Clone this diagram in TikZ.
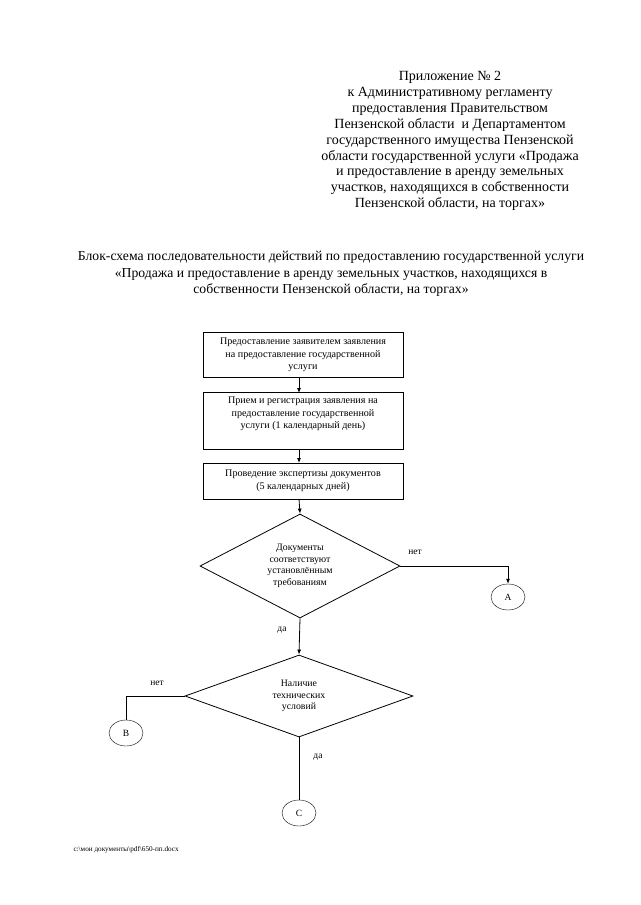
\documentclass[tikz,border=0pt]{standalone}
\usepackage{fontspec}
\setmainfont{Liberation Serif}
\usetikzlibrary{shapes.geometric,arrows.meta}

\begin{document}
\begin{tikzpicture}[x=1pt, y=-1pt,
	shag/.style = {draw, thick, minimum width=200pt, inner sep=1pt, align=center, font=\fontsize{10.1}{12.5}\selectfont},
	vopros/.style = {draw, thick, diamond, aspect=2, inner sep=0pt, align=center, font=\fontsize{9.8}{11.5}\selectfont},
	perehod/.style = {draw, ellipse, minimum width=34pt, minimum height=26pt, inner sep=0pt, font=\fontsize{9.5}{11}\selectfont},
	metka/.style = {font=\fontsize{9.5}{11}\selectfont},
	strelka/.style = {-{Latex[length=5pt,width=4pt]}, thick},
	liniya/.style = {thick},]

		\useasboundingbox[fill=white] (0,0) rectangle (640,905);

		% shapka
		\node[align=center, font=\fontsize{14}{15.9}\selectfont] (prilozh) at (450,141) {Приложение № 2\\к Административному регламенту\\предоставления Правительством\\Пензенской области\ \ и Департаментом\\государственного имущества Пензенской\\области государственной услуги «Продажа\\и предоставление в аренду земельных\\участков, находящихся в собственности\\Пензенской области, на торгах»};
		\node[align=center, font=\fontsize{13.7}{16.5}\selectfont] (zagolovok) at (331,274) {Блок-схема последовательности действий по предоставлению государственной услуги\\«Продажа и предоставление в аренду земельных участков, находящихся в\\собственности Пензенской области, на торгах»};

		% shagi
		\node[shag, minimum height=45pt] (S1) at (303,355) {Предоставление заявителем заявления\\на предоставление государственной\\услуги};
		\node[shag, minimum height=57pt] (S2) at (303,421) {Прием и регистрация заявления на\\предоставление государственной\\услуги (1 календарный день)\\[4pt]};
		\node[shag, minimum height=36pt] (S3) at (303,481) {Проведение экспертизы документов\\(5 календарных дней)};

		\node[vopros, minimum width=200pt, minimum height=104pt] (V1) at (300,566) {Документы\\соответствуют\\установлённым\\требованиям};
		\node[vopros, minimum width=228pt, minimum height=82pt] (V2) at (299,696) {Наличие\\технических\\условий};

		\node[perehod] (A) at (508,597) {A};
		\node[perehod] (B) at (126,733) {B};
		\node[perehod] (C) at (299,813) {C};

		\coordinate (AA) at (508,566);
		\coordinate (BB) at (126,696);

		\draw[strelka] (299,377) -- (299,393);
		\draw[strelka] (299,450) -- (299,463);
		\draw[strelka] (299,499) -- (V1.north);
		\draw[strelka] (V1.south) -- (V2.north);
		\draw[strelka] (V1.east) -- (AA) -- (A.north);
		\draw[liniya] (V2.west) -- (BB) -- (B.north);
		\draw[liniya] (V2.south) -- (C.north);

		\node[metka] (net1) at (415,552) {нет};
		\node[metka] (da1) at (282,630) {да};
		\node[metka] (net2) at (157,683) {нет};
		\node[metka] (da2) at (318,757) {да};

		\node[anchor=west, font=\fontsize{7.2}{8}\selectfont] (fail) at (70,850) {c:\textbackslash мои документы\textbackslash pdf\textbackslash 650-пп.docx};

	\end{tikzpicture}
\end{document}
